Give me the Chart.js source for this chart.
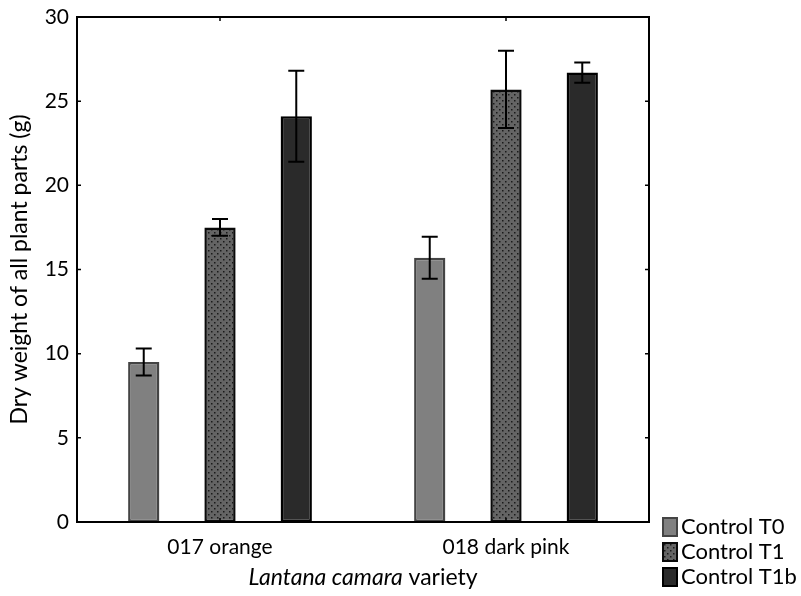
<!DOCTYPE html>
<html lang="en">
<head>
<meta charset="utf-8">
<title>Lantana camara dry weight</title>
<script src="https://cdn.jsdelivr.net/npm/chart.js"></script>
<style>
  html, body { margin: 0; padding: 0; background: #fff; }
  #wrap { width: 801px; height: 596px; }
</style>
</head>
<body>
<div id="wrap"><canvas id="chart" width="801" height="596"></canvas></div>
<script>
// data
const varieties = ['017 orange', '018 dark pink'];
const seriesNames = ['Control T0', 'Control T1', 'Control T1b'];
const meanT0 = [9.5, 15.7];
const meanT1 = [17.5, 25.7];
const meanT1b = [24.1, 26.7];
const errT0 = [0.8, 1.25];
const errT1 = [0.5, 2.3];
const errT1b = [2.7, 0.6];
const yTicks = [0, 5, 10, 15, 20, 25, 30];

const FONT = 'Lato, "Open Sans", sans-serif';
const TICK_FS = 21;
const TITLE_FS = 23;
const LEG_FS = 22;

function dotPattern() {
    const c = document.createElement('canvas');
    c.width = 6; c.height = 6;
    const g = c.getContext('2d');
    g.fillStyle = '#646464';
    g.fillRect(0, 0, 6, 6);
    g.fillStyle = '#1a1a1a';
    g.fillRect(1, 1, 1.5, 1.5);
    g.fillRect(4, 4, 1.5, 1.5);
    return g.createPattern(c, 'repeat');
}

const fills = ['#808080', dotPattern(), '#2a2a2a'];
const borders = ['#444444', '#0a0a0a', '#000000'];
const means = [meanT0, meanT1, meanT1b];
const errs = [errT0, errT1, errT1b];

const boxPlugin = {
    id: 'boxPlugin',
    afterDatasetsDraw(chart) {
        const ctx = chart.ctx;
        const a = chart.chartArea;
        const xs = chart.scales.x, ys = chart.scales.y;
        ctx.save();
        // error bars
        ctx.strokeStyle = '#000';
        ctx.lineWidth = 2;
        chart.data.datasets.forEach((ds, di) => {
            const meta = chart.getDatasetMeta(di);
            meta.data.forEach((bar, i) => {
                const v = ds.data[i], e = errs[di][i];
                const yt = ys.getPixelForValue(v + e), yb = ys.getPixelForValue(v - e);
                const x = bar.x;
                ctx.beginPath();
                ctx.moveTo(x, yt); ctx.lineTo(x, yb);
                ctx.moveTo(x - 8, yt); ctx.lineTo(x + 8, yt);
                ctx.moveTo(x - 8, yb); ctx.lineTo(x + 8, yb);
                ctx.stroke();
            });
        });
        // frame
        ctx.lineWidth = 2;
        ctx.strokeRect(a.left, a.top, a.right - a.left, a.bottom - a.top);
        // inward ticks
        ctx.lineWidth = 1.5;
        ctx.beginPath();
        yTicks.forEach(t => {
            const y = ys.getPixelForValue(t);
            ctx.moveTo(a.left, y); ctx.lineTo(a.left + 4, y);
            ctx.moveTo(a.right, y); ctx.lineTo(a.right - 4, y);
        });
        varieties.forEach((_, i) => {
            const x = xs.getPixelForValue(i);
            ctx.moveTo(x, a.top); ctx.lineTo(x, a.top + 4);
            ctx.moveTo(x, a.bottom); ctx.lineTo(x, a.bottom - 4);
        });
        ctx.stroke();
        // x title with italic species name
        ctx.fillStyle = '#000';
        ctx.textBaseline = 'middle';
        const p1 = 'Lantana camara', p2 = ' variety';
        ctx.font = 'italic ' + TITLE_FS + 'px ' + FONT;
        const w1 = ctx.measureText(p1).width;
        ctx.font = TITLE_FS + 'px ' + FONT;
        const w2 = ctx.measureText(p2).width;
        let x0 = (a.left + a.right) / 2 - (w1 + w2) / 2;
        ctx.textAlign = 'left';
        ctx.font = 'italic ' + TITLE_FS + 'px ' + FONT;
        ctx.fillText(p1, x0, 578);
        ctx.font = TITLE_FS + 'px ' + FONT;
        ctx.fillText(p2, x0 + w1, 578);
        // legend
        chart.data.datasets.forEach((ds, di) => {
            const y = 527 + di * 25;
            ctx.fillStyle = ds.backgroundColor;
            ctx.fillRect(663, y - 9, 14, 18);
            ctx.strokeStyle = ds.borderColor;
            ctx.lineWidth = 2;
            ctx.strokeRect(663, y - 9, 14, 18);
            ctx.fillStyle = '#000';
            ctx.font = LEG_FS + 'px ' + FONT;
            ctx.fillText(ds.label, 681, y);
        });
        ctx.restore();
    }
};

new Chart(document.getElementById('chart'), {
    type: 'bar',
    data: {
        labels: varieties,
        datasets: seriesNames.map((name, i) => ({
            label: name,
            data: means[i],
            backgroundColor: fills[i],
            borderColor: borders[i],
            borderWidth: 2.5,
            borderSkipped: false,
            categoryPercentage: 0.8,
            barPercentage: 0.41
        }))
    },
    options: {
        responsive: false,
        animation: false,
        layout: { padding: { top: 17, right: 152, left: 0, bottom: 0 } },
        plugins: {
            legend: { display: false },
            tooltip: { enabled: false }
        },
        scales: {
            x: {
                grid: { display: false },
                border: { display: false },
                ticks: { color: '#000', font: { family: FONT, size: TICK_FS }, padding: 5 },
                afterFit(s) { s.height = 74; }
            },
            y: {
                min: 0, max: 30,
                afterBuildTicks(s) { s.ticks = yTicks.map(v => ({ value: v })); },
                grid: { display: false },
                border: { display: false },
                ticks: { color: '#000', font: { family: FONT, size: TICK_FS }, padding: 0 },
                title: {
                    display: true, text: 'Dry weight of all plant parts (g)',
                    color: '#000', font: { family: FONT, size: TITLE_FS }, padding: { top: 6, bottom: 2 }
                },
                afterFit(s) { s.width = 77; }
            }
        }
    },
    plugins: [boxPlugin]
});
</script>
</body>
</html>
